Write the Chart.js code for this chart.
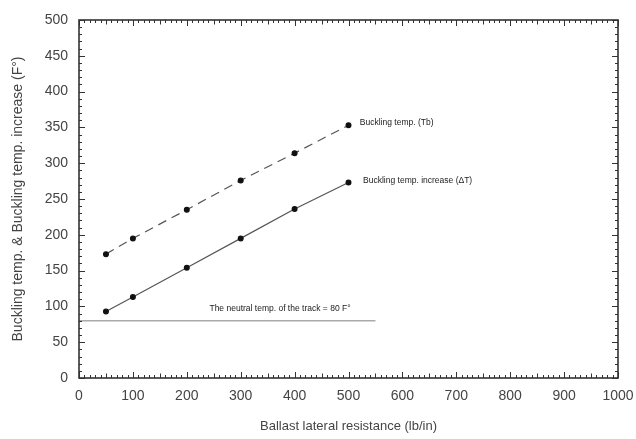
<!DOCTYPE html>
<html>
<head>
<meta charset="utf-8">
<script src="https://cdn.jsdelivr.net/npm/chart.js@4.4.1/dist/chart.umd.min.js"></script>
<style>
  html, body { margin: 0; padding: 0; background: #fff; }
  #wrap { width: 636px; height: 439px; }
</style>
</head>
<body>
<div id="wrap"><canvas id="chart" width="636" height="439"></canvas></div>
<script>
// values
const resistance = [50, 100, 200, 300, 400, 500];
const bucklingTemp = [173, 195, 235, 276, 314, 353];
const bucklingIncrease = [93, 113, 154, 195, 236, 273];
const neutralX = [0, 550];
const neutralY = [80, 80];

const xTicks = [0, 100, 200, 300, 400, 500, 600, 700, 800, 900, 1000];
const yTicks = [0, 50, 100, 150, 200, 250, 300, 350, 400, 450, 500];

const notes = [
  { text: 'Buckling temp. (Tb)', x: 521, y: 357 },
  { text: 'Buckling temp. increase (\u0394T)', x: 527, y: 275 },
  { text: 'The neutral temp. of the track = 80 F\u00b0', x: 242, y: 97 },
];

const toPoints = (xs, ys) => xs.map((x, i) => ({ x, y: ys[i] }));

// box frame + inward minor/major ticks on all four sides
const frameTicks = {
  id: 'frameTicks',
  afterDatasetsDraw(chart) {
    const { ctx, chartArea: a, scales: { x, y } } = chart;
    ctx.save();
    ctx.strokeStyle = '#333';
    ctx.lineWidth = 1;
    for (let v = 0; v <= 1000; v += 10) {
      const px = Math.round(x.getPixelForValue(v)) + 0.5;
      const len = v % 100 === 0 ? 6 : v % 50 === 0 ? 4.5 : 3;
      ctx.beginPath();
      ctx.moveTo(px, a.bottom); ctx.lineTo(px, a.bottom - len);
      ctx.moveTo(px, a.top); ctx.lineTo(px, a.top + len);
      ctx.stroke();
    }
    for (let v = 0; v <= 500; v += 10) {
      const py = Math.round(y.getPixelForValue(v)) + 0.5;
      const len = v % 50 === 0 ? 6 : 3;
      ctx.beginPath();
      ctx.moveTo(a.left, py); ctx.lineTo(a.left + len, py);
      ctx.moveTo(a.right, py); ctx.lineTo(a.right - len, py);
      ctx.stroke();
    }
    ctx.lineWidth = 1.6;
    ctx.strokeRect(a.left, a.top, a.right - a.left, a.bottom - a.top);

    ctx.fillStyle = '#222';
    ctx.font = '8.5px "Liberation Sans", Arial, sans-serif';
    ctx.textBaseline = 'middle';
    notes.forEach((n) => {
      ctx.fillText(n.text, x.getPixelForValue(n.x), y.getPixelForValue(n.y));
    });
    ctx.restore();
  },
};

new Chart(document.getElementById('chart'), {
  type: 'scatter',
  data: {
    datasets: [
      {
        label: 'Buckling temp.',
        data: toPoints(resistance, bucklingTemp),
        showLine: true,
        borderColor: '#555',
        borderWidth: 1.2,
        borderDash: [9, 6],
        pointRadius: 2.4,
        pointBackgroundColor: '#111',
        pointBorderColor: '#111',
      },
      {
        label: 'Buckling temp. increase',
        data: toPoints(resistance, bucklingIncrease),
        showLine: true,
        borderColor: '#555',
        borderWidth: 1.2,
        pointRadius: 2.4,
        pointBackgroundColor: '#111',
        pointBorderColor: '#111',
      },
      {
        label: 'Neutral temp.',
        data: toPoints(neutralX, neutralY),
        showLine: true,
        borderColor: '#aaa',
        borderWidth: 1.5,
        pointRadius: 0,
      },
    ],
  },
  options: {
    responsive: false,
    animation: false,
    layout: { padding: { top: 20, right: 18, left: 0, bottom: 0 } },
    plugins: { legend: { display: false }, tooltip: { enabled: false } },
    scales: {
      x: {
        type: 'linear',
        min: 0,
        max: 1000,
        afterBuildTicks: (s) => { s.ticks = xTicks.map((v) => ({ value: v })); },
        afterFit: (s) => { s.height = 61; s.paddingLeft = 0; s.paddingRight = 0; },
        grid: { display: false, drawTicks: false },
        border: { display: false },
        ticks: {
          padding: 10,
          color: '#444',
          font: { family: '"Liberation Sans", Arial, sans-serif', size: 14 },
          maxRotation: 0,
          callback: (value) => String(value),
        },
        title: {
          display: true,
          text: 'Ballast lateral resistance (lb/in)',
          color: '#444',
          font: { family: '"Liberation Sans", Arial, sans-serif', size: 13 },
          padding: { top: 0, bottom: 5 },
        },
      },
      y: {
        type: 'linear',
        min: 0,
        max: 500,
        afterBuildTicks: (s) => { s.ticks = yTicks.map((v) => ({ value: v })); },
        afterFit: (s) => { s.width = 79; s.paddingTop = 0; s.paddingBottom = 0; },
        grid: { display: false, drawTicks: false },
        border: { display: false },
        ticks: {
          padding: 11,
          color: '#444',
          font: { family: '"Liberation Sans", Arial, sans-serif', size: 14 },
          callback: (value) => String(value),
        },
        title: {
          display: true,
          text: 'Buckling temp. & Buckling temp. increase (F\u00b0)',
          color: '#444',
          font: { family: '"Liberation Sans", Arial, sans-serif', size: 14 },
          padding: { top: 10, bottom: 0 },
        },
      },
    },
  },
  plugins: [frameTicks],
});
</script>
</body>
</html>
